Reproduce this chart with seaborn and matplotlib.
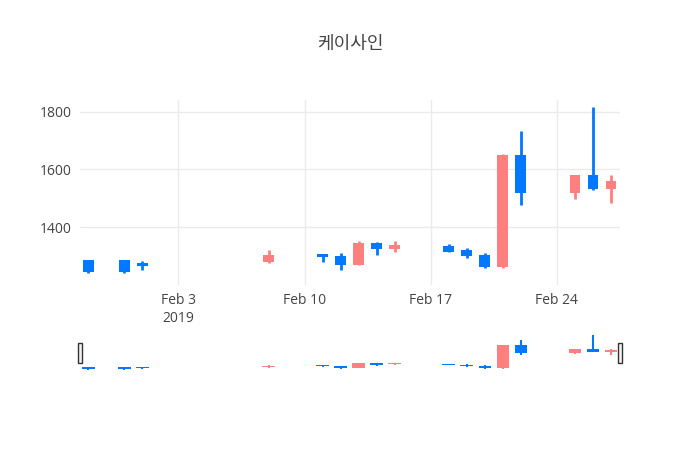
import matplotlib
matplotlib.use("Agg")
import matplotlib.pyplot as plt
import matplotlib.dates as mdates
import seaborn as sns
import pandas as pd
import numpy as np

dates = ["2019-01-29","2019-01-31","2019-02-01","2019-02-08","2019-02-11","2019-02-12",
         "2019-02-13","2019-02-14","2019-02-15","2019-02-18","2019-02-19","2019-02-20",
         "2019-02-21","2019-02-22","2019-02-25","2019-02-26","2019-02-27"]
opens  = [1285,1285,1276,1280,1306,1302,1270,1346,1326,1334,1320,1304,1264,1650,1519,1580,1533]
closes = [1245,1245,1265,1305,1297,1270,1344,1325,1338,1315,1299,1264,1650,1520,1580,1533,1559]
highs  = [1288,1288,1283,1322,1308,1309,1353,1348,1353,1342,1327,1311,1652,1732,1580,1816,1580]
lows   = [1243,1243,1253,1276,1278,1253,1268,1303,1315,1313,1292,1259,1259,1477,1498,1530,1483]

UP, DOWN = "#FF7F7F", "#0078FF"
df = pd.DataFrame({"date": pd.to_datetime(dates), "open": opens, "close": closes,
                   "high": highs, "low": lows})
df["color"] = np.where(df["close"] >= df["open"], UP, DOWN)

sns.set_theme(style="whitegrid")
plt.rcParams['font.family'] = ['Open Sans', 'Noto Sans CJK KR', 'DejaVu Sans']

fig = plt.figure(figsize=(7, 4.5), dpi=100)
ax = fig.add_axes([80/700, 1-285/450, 540/700, 185/450])
axs = fig.add_axes([80/700, 1-370/450, 540/700, 36/450])

xmin, xmax = pd.Timestamp("2019-01-28 13:00"), pd.Timestamp("2019-02-27 12:00")

def draw(a, lw, width, minh):
    bottoms = np.minimum(df["open"], df["close"])
    heights = np.abs(df["close"] - df["open"])
    heights = np.maximum(heights, minh)
    a.vlines(df["date"], df["low"], df["high"], colors=df["color"], linewidth=lw, zorder=2)
    a.bar(df["date"], heights, bottom=bottoms, width=width, color=df["color"], zorder=3, linewidth=0)
    a.set_xlim(xmin, xmax)

draw(ax, 2, 0.6, 2)
ax.set_ylim(1200, 1840)
ax.set_yticks([1400, 1600, 1800])
ax.set_xticks(pd.to_datetime(["2019-02-03","2019-02-10","2019-02-17","2019-02-24"]))
ax.set_xticklabels(["Feb 3\n2019","Feb 10","Feb 17","Feb 24"])
for s in ax.spines.values():
    s.set_visible(False)
ax.grid(True, color="#ebebeb", linewidth=1)
ax.tick_params(colors="#444444", labelsize=10, length=0, pad=6)
ax.set_facecolor("white")

draw(axs, 1.5, 0.7, 25)
axs.set_ylim(1235, 1830)
axs.set_xticks([]); axs.set_yticks([])
axs.grid(False)
for s in axs.spines.values():
    s.set_visible(False)
for xv in [xmin, xmax]:
    axs.add_patch(plt.Rectangle((mdates.date2num(xv) - 0.12, 0.2), 0.24, 0.55,
                                transform=axs.get_xaxis_transform(),
                                facecolor="#f2f2f2", edgecolor="#333333", linewidth=1,
                                zorder=5, clip_on=False))

fig.text(0.5, 1-44/450, "케이사인", ha="center", va="center", fontsize=13, color="#444444")
fig.savefig("out.png", dpi=100, facecolor="white")
